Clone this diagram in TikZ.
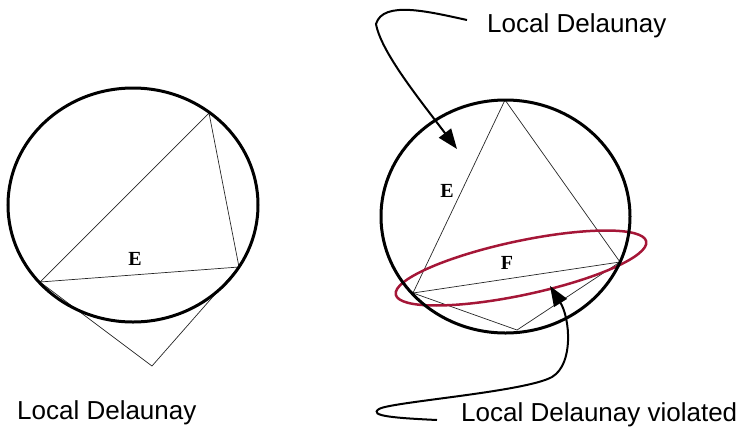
\documentclass[tikz,border=0pt]{standalone}
\usepackage{fontspec}
\setmainfont{Liberation Sans}
\newfontfamily\edgefont{Liberation Serif}
\usepackage{xcolor}
\usepackage{tikz}
\usetikzlibrary{arrows.meta}
\definecolor{ringred}{RGB}{165,22,55}

\begin{document}
\begin{tikzpicture}[x=1pt,y=-1pt,>={Triangle[length=20pt,width=15pt]},
  circum/.style={draw,line width=3pt},
  tri/.style={draw,black!85,line width=0.7pt},
  caption/.style={anchor=base west,inner sep=0pt,font=\fontsize{26}{30}\selectfont},
  edgelbl/.style={inner sep=0pt,font=\edgefont\bfseries\fontsize{20}{22}\selectfont},
  pointer/.style={->,line width=2pt}]
  \useasboundingbox (0,0) rectangle (748,432);
  % left: local Delaunay
  \coordinate (lc) at (133,205);
  \coordinate (la) at (209,113);
  \coordinate (lb) at (40,282);
  \coordinate (ld) at (239,267);
  \coordinate (le) at (152,366);
  \draw[tri] (la) -- (lb) -- (ld) -- cycle;
  \draw[tri] (lb) -- (le) -- (ld);
  \draw[circum] (lc) ellipse [x radius=125, y radius=117];
  \node[edgelbl] (lE) at (135,259) {E};
  \node[caption] (lcap) at (17,419) {Local Delaunay};
  % right: violated
  \coordinate (rc) at (505.5,216.5);
  \coordinate (ra) at (505,100);
  \coordinate (rb) at (413,293);
  \coordinate (rd) at (620,262);
  \coordinate (re) at (517,330);
  \draw[tri] (ra) -- (rb) -- (rd) -- cycle;
  \draw[tri] (rb) -- (re) -- (rd);
  \coordinate (fc) at (521,268);
  \draw[ringred,line width=2.5pt,rotate around={12:(fc)}] (fc) ellipse [x radius=128pt, y radius=27pt];
  \draw[circum] (rc) ellipse [x radius=124.5, y radius=116.5];
  \node[edgelbl] (rE) at (447,191) {E};
  \node[edgelbl] (rF) at (507,263) {F};
  \node[caption] (tcap) at (487,32) {Local Delaunay};
  \node[caption] (bcap) at (461,421) {Local Delaunay violated};
  % pointers
  \coordinate (t0) at (467,20);
  \coordinate (t1) at (457,149);
  \coordinate (b0) at (437,420);
  \coordinate (b1) at (550,286);
  \draw[pointer] (t0) .. controls (430,12) and (383,0) .. (376,24)
    .. controls (381,52) and (420,100) .. (t1);
  \draw[pointer] (b0) .. controls (395,418) and (368,416) .. (379,409)
    .. controls (390,402) and (525,392) .. (552,377)
    .. controls (574,364) and (570,318) .. (b1);
\end{tikzpicture}
\end{document}
